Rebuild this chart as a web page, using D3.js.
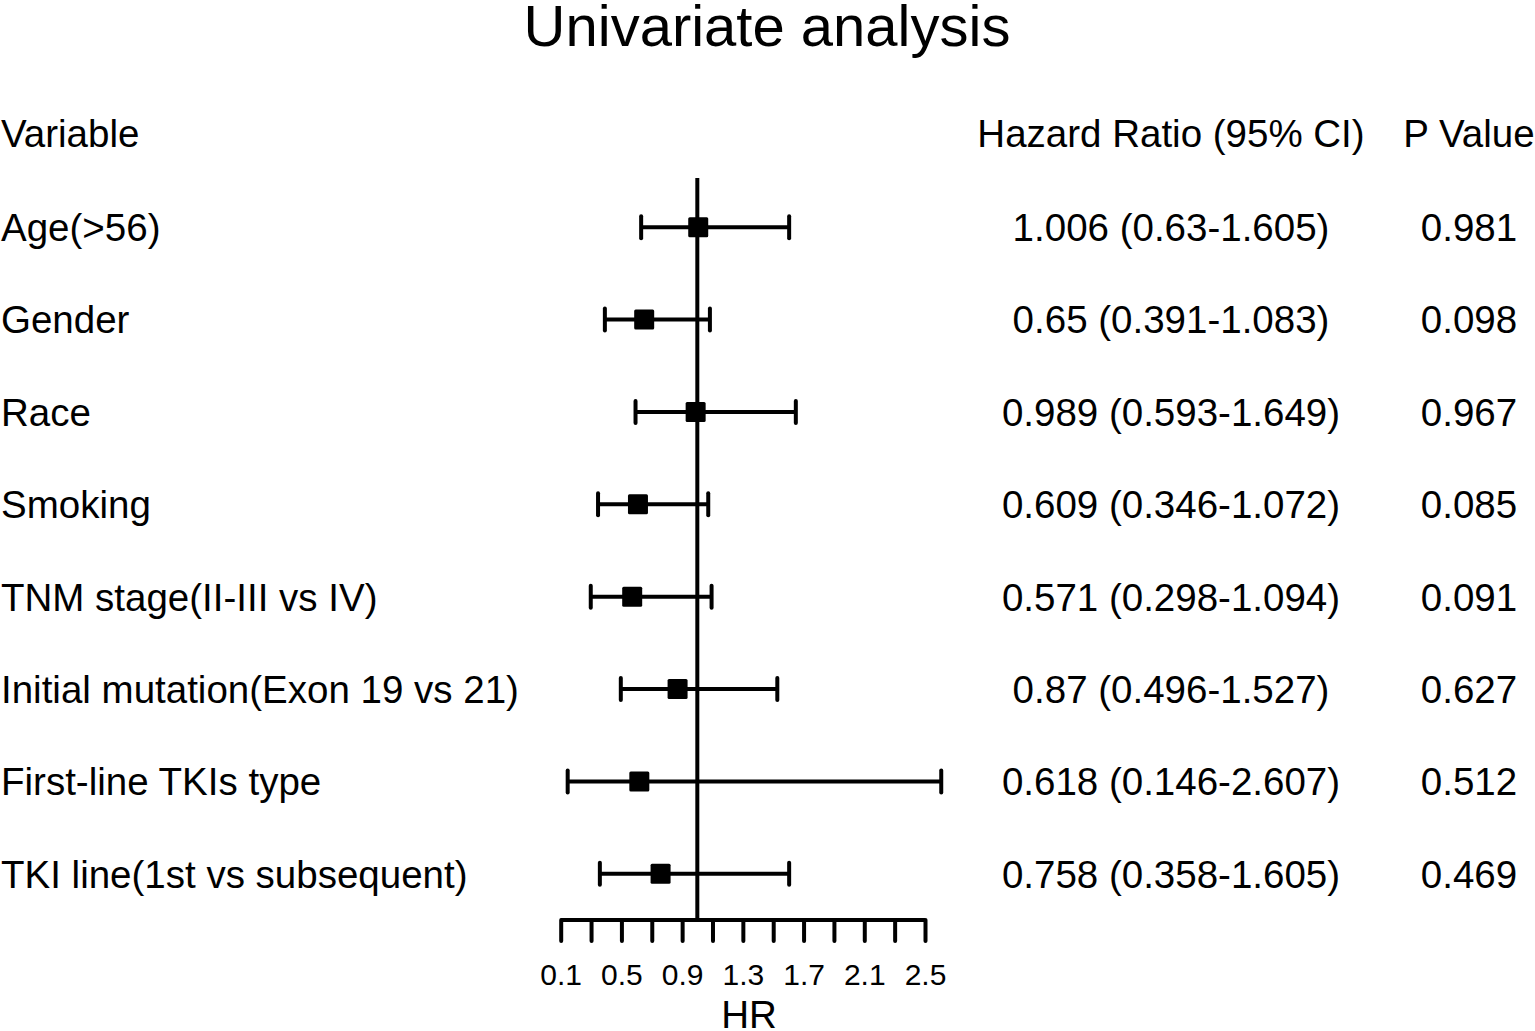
<html>
  <style type="text/css">
    body { margin: 0; background: #fff; }
    text { font-family: "Liberation Sans", Arial, sans-serif; fill: #000; }
  </style>
  <body>
    <script src="https://cdnjs.cloudflare.com/ajax/libs/d3/7.8.5/d3.min.js"></script>
    <script type="text/javascript">
      const variables = ["Age(>56)", "Gender", "Race", "Smoking", "TNM stage(II-III vs IV)",
        "Initial mutation(Exon 19 vs 21)", "First-line TKIs type", "TKI line(1st vs subsequent)"];
      const hr = [1.006, 0.65, 0.989, 0.609, 0.571, 0.87, 0.618, 0.758];
      const lower = [0.63, 0.391, 0.593, 0.346, 0.298, 0.496, 0.146, 0.358];
      const upper = [1.605, 1.083, 1.649, 1.072, 1.094, 1.527, 2.607, 1.605];
      const pValues = ["0.981", "0.098", "0.967", "0.085", "0.091", "0.627", "0.512", "0.469"];
      const tickValues = [0.1, 0.3, 0.5, 0.7, 0.9, 1.1, 1.3, 1.5, 1.7, 1.9, 2.1, 2.3, 2.5];
      const tickLabels = ["0.1", "", "0.5", "", "0.9", "", "1.3", "", "1.7", "", "2.1", "", "2.5"];

      const W = 1535, H = 1031;
      const fs = 38.5;
      const svg = d3.select("body").append("svg").attr("width", W).attr("height", H);

      const x = d3.scaleLinear().domain([0.1, 2.5]).range([560.7, 925]);
      const y = d3.scaleBand().domain(d3.range(variables.length)).range([181, 920]).padding(0);
      const yc = i => y(i) + y.bandwidth() / 2;

      // title + headers
      svg.append("text").attr("x", 767).attr("y", 46).attr("text-anchor", "middle")
        .attr("font-size", 58).text("Univariate analysis");
      svg.append("text").attr("x", 1).attr("y", 147).attr("font-size", fs).text("Variable");
      svg.append("text").attr("x", 1171).attr("y", 147).attr("text-anchor", "middle")
        .attr("font-size", fs).text("Hazard Ratio (95% CI)");
      svg.append("text").attr("x", 1469).attr("y", 147).attr("text-anchor", "middle")
        .attr("font-size", fs).text("P Value");

      const rows = svg.append("g").selectAll("g").data(d3.range(variables.length)).join("g");

      rows.append("text").attr("x", 1).attr("y", i => yc(i)).attr("dy", "0.36em")
        .attr("font-size", fs).text(i => variables[i]);
      rows.append("text").attr("x", 1171).attr("y", i => yc(i)).attr("dy", "0.36em")
        .attr("text-anchor", "middle").attr("font-size", fs)
        .text(i => `${hr[i]} (${lower[i]}-${upper[i]})`);
      rows.append("text").attr("x", 1469).attr("y", i => yc(i)).attr("dy", "0.36em")
        .attr("text-anchor", "middle").attr("font-size", fs).text(i => pValues[i]);

      // reference line at HR = 1
      svg.append("line").attr("x1", x(1)).attr("x2", x(1)).attr("y1", 178).attr("y2", 920)
        .attr("stroke", "#000").attr("stroke-width", 4);

      // CI whiskers
      rows.append("line").attr("x1", i => x(lower[i])).attr("x2", i => x(upper[i]))
        .attr("y1", i => yc(i)).attr("y2", i => yc(i))
        .attr("stroke", "#000").attr("stroke-width", 4);
      [lower, upper].forEach(arr => {
        rows.append("line").attr("x1", i => x(arr[i])).attr("x2", i => x(arr[i]))
          .attr("y1", i => yc(i) - 11).attr("y2", i => yc(i) + 11)
          .attr("stroke", "#000").attr("stroke-width", 4).attr("stroke-linecap", "round");
      });
      rows.append("rect").attr("x", i => x(hr[i]) - 10).attr("y", i => yc(i) - 10)
        .attr("width", 20).attr("height", 20).attr("rx", 1.5).attr("fill", "#000");

      // x axis
      const axis = d3.axisBottom(x).tickValues(tickValues).tickSize(21).tickPadding(23)
        .tickFormat((d, i) => tickLabels[i]);
      const ax = svg.append("g").attr("transform", "translate(0,920)").call(axis);
      ax.select(".domain").attr("stroke-width", 4).attr("d", `M${x(0.1)},0H${x(2.5)}`);
      ax.selectAll(".tick line").attr("stroke-width", 4).attr("stroke-linecap", "round");
      ax.selectAll(".tick text").attr("font-size", 30)
        .attr("font-family", "'Liberation Sans', Arial, sans-serif");
      svg.append("text").attr("x", 749).attr("y", 1028).attr("text-anchor", "middle")
        .attr("font-size", fs).text("HR");
    </script>
  </body>
</html>
